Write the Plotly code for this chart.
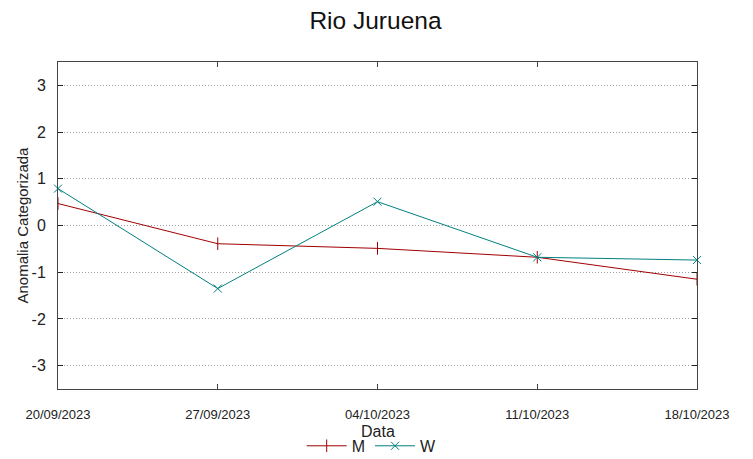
import plotly.graph_objects as go

dates = ["20/09/2023", "27/09/2023", "04/10/2023", "11/10/2023", "18/10/2023"]
m_values = [0.47, -0.39, -0.49, -0.68, -1.15]
w_values = [0.79, -1.35, 0.51, -0.68, -0.74]
y_ticks = [-3, -2, -1, 0, 1, 2, 3]
y_labels = ["-3", "-2", "-1", "0", "1", "2", "3"]

xpos = list(range(len(dates)))

fig = go.Figure()
fig.add_trace(go.Scatter(
    x=xpos, y=m_values, name="M", mode="lines+markers",
    line=dict(color="#a00000", width=1),
    marker=dict(symbol="line-ns", size=9, line=dict(color="#a00000", width=1)),
    cliponaxis=False,
))
fig.add_trace(go.Scatter(
    x=xpos, y=w_values, name="W", mode="lines+markers",
    line=dict(color="#008080", width=1),
    marker=dict(symbol="x-thin", size=8, line=dict(color="#008080", width=1)),
    cliponaxis=False,
))

fig.update_layout(
    width=753, height=459,
    margin=dict(l=50, r=64, t=54, b=78),
    paper_bgcolor="white", plot_bgcolor="white",
    font=dict(family="Liberation Sans, Arial, sans-serif", color="#222222", size=12),
    title=dict(text="Rio Juruena", x=0.488, xanchor="center", y=0.973, yanchor="middle",
               font=dict(size=24.5, color="#111111")),
    xaxis=dict(
        range=[0, 4], tickmode="array", tickvals=xpos, ticktext=dates,
        showgrid=False, zeroline=False, automargin=False,
        showline=True, linecolor="#444444", linewidth=1, mirror="ticks",
        ticks="inside", ticklen=5, tickcolor="#444444",
        tickfont=dict(size=13, color="#222222"), ticklabelstandoff=13,
    ),
    yaxis=dict(
        range=[-3.5, 3.5], tickmode="array", tickvals=y_ticks, ticktext=y_labels,
        showgrid=True, gridcolor="#a0a0a0", griddash="1px,2px", gridwidth=1,
        zeroline=False, automargin=False,
        showline=True, linecolor="#444444", linewidth=1, mirror="ticks",
        ticks="inside", ticklen=5, tickcolor="#222222",
        tickfont=dict(size=16, color="#222222"), ticklabelstandoff=8,
    ),
    annotations=[
        dict(text="Data", xref="paper", yref="paper", x=0.5, y=0,
             xanchor="center", yanchor="middle", yshift=-42, showarrow=False,
             font=dict(size=16, color="#222222")),
        dict(text="Anomalia Categorizada", xref="paper", yref="paper", x=0, y=0.5,
             xanchor="center", yanchor="middle", xshift=-36, textangle=-90,
             showarrow=False, font=dict(size=15, color="#222222")),
    ],
    legend=dict(orientation="h", xref="container", yref="container",
                x=0.483, xanchor="center", y=0.046, yanchor="middle",
                font=dict(size=16), itemwidth=40, bgcolor="rgba(0,0,0,0)"),
)

fig.write_html("out.html")
